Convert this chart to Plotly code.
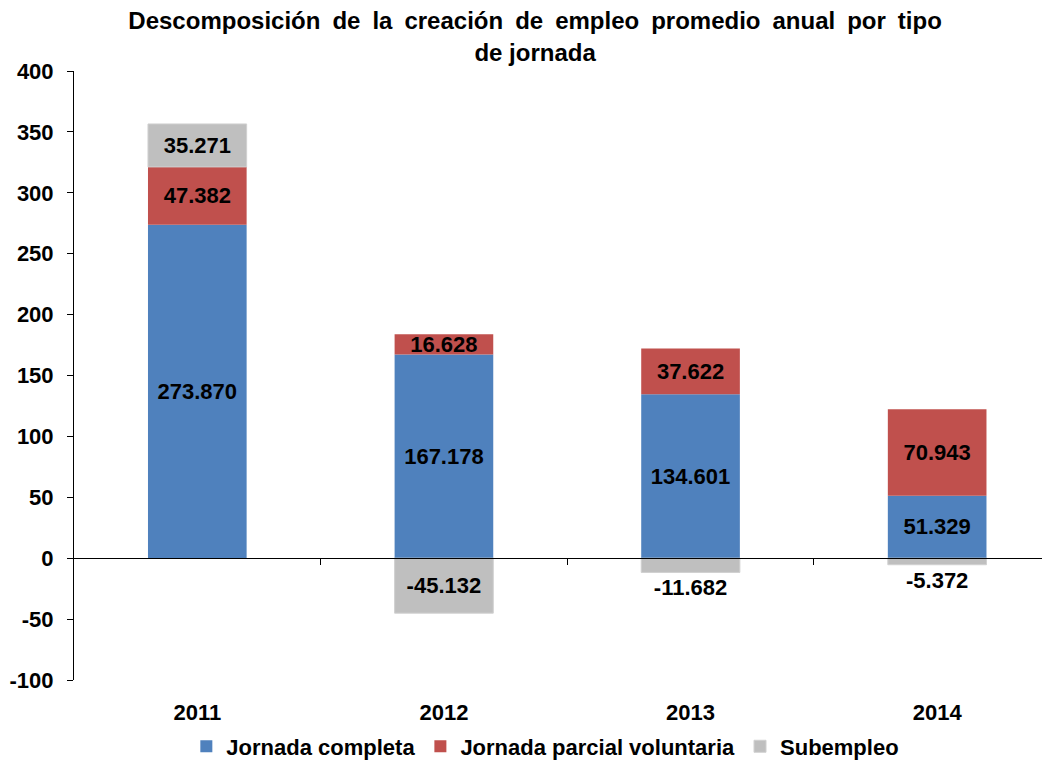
import plotly.graph_objects as go

years = ["2011", "2012", "2013", "2014"]
completa = [273.870, 167.178, 134.601, 51.329]
parcial = [47.382, 16.628, 37.622, 70.943]
subempleo = [35.271, -45.132, -11.682, -5.372]

y_ticks = list(range(-100, 401, 50))

title_1 = "Descomposición de la creación de empleo promedio anual por tipo"
title_2 = "de jornada"

def fmt(v):
    return f"{v:.3f}"

font = "Liberation Sans, Arial, sans-serif"

fig = go.Figure()
fig.add_trace(go.Bar(
    x=years, y=completa, name="Jornada completa",
    marker=dict(color="#4F81BD", line=dict(color="#4F81BD", width=0)),
    text=[fmt(v) for v in completa], textposition="inside", insidetextanchor="middle",
))
fig.add_trace(go.Bar(
    x=years, y=parcial, name="Jornada parcial voluntaria",
    marker=dict(color="#C0504D", line=dict(color="#C0504D", width=0)),
    text=[fmt(v) for v in parcial], textposition="inside", insidetextanchor="middle",
))
fig.add_trace(go.Bar(
    x=years, y=subempleo, name="Subempleo",
    marker=dict(color="#BFBFBF", line=dict(color="#D0D0D0", width=1)),
    text=[fmt(v) for v in subempleo],
    textposition=["inside", "inside", "outside", "outside"], insidetextanchor="middle",
))

fig.update_traces(
    width=0.4,
    textfont=dict(family=font, size=22, color="black", weight="bold"),
    outsidetextfont=dict(family=font, size=22, color="black", weight="bold"),
    constraintext="none", cliponaxis=False,
)

fig.update_layout(
    width=1050, height=761,
    barmode="relative",
    plot_bgcolor="white", paper_bgcolor="white",
    margin=dict(l=66, r=0, t=63, b=89, autoexpand=False),
    uniformtext=dict(minsize=22, mode="show"),
    title=dict(
        text="<b>" + title_1.replace(" ", "\u2002") + "<br>" + title_2 + "</b>",
        x=0.502, xanchor="center", yref="container", y=0.972, yanchor="middle",
        font=dict(family=font, size=24, color="black"),
    ),
    font=dict(family=font, color="black"),
    xaxis=dict(
        range=[-0.5, 3.49], showline=False, showgrid=False, ticks="",
        tickfont=dict(size=22, weight="bold"), automargin=False, ticklabelstandoff=17,
    ),
    xaxis2=dict(
        overlaying="x", anchor="free", position=0.2, range=[-0.5, 3.49],
        showline=True, linecolor="black", linewidth=1,
        ticks="outside", ticklen=6, tickcolor="black",
        tickvals=[0.5, 1.5, 2.5], showticklabels=False, showgrid=False,
        automargin=False,
    ),
    yaxis=dict(
        range=[-100, 400], tickvals=y_ticks, ticktext=[str(v) for v in y_ticks],
        showgrid=False, zeroline=False,
        showline=True, linecolor="black", linewidth=1,
        ticks="outside", ticklen=6, tickcolor="black",
        tickfont=dict(size=22, weight="bold"), automargin=False, ticklabelstandoff=9,
    ),
    legend=dict(
        orientation="h", x=0.479, xanchor="center", yref="container", y=0.002, yanchor="bottom",
        font=dict(size=22, weight="bold"), itemwidth=30, tracegroupgap=0,
        bgcolor="rgba(0,0,0,0)",
    ),
)
fig.add_trace(go.Scatter(x=[0], y=[0], xaxis="x2", showlegend=False, mode="markers",
                         marker=dict(opacity=0), hoverinfo="skip"))

fig.write_html("out.html")
